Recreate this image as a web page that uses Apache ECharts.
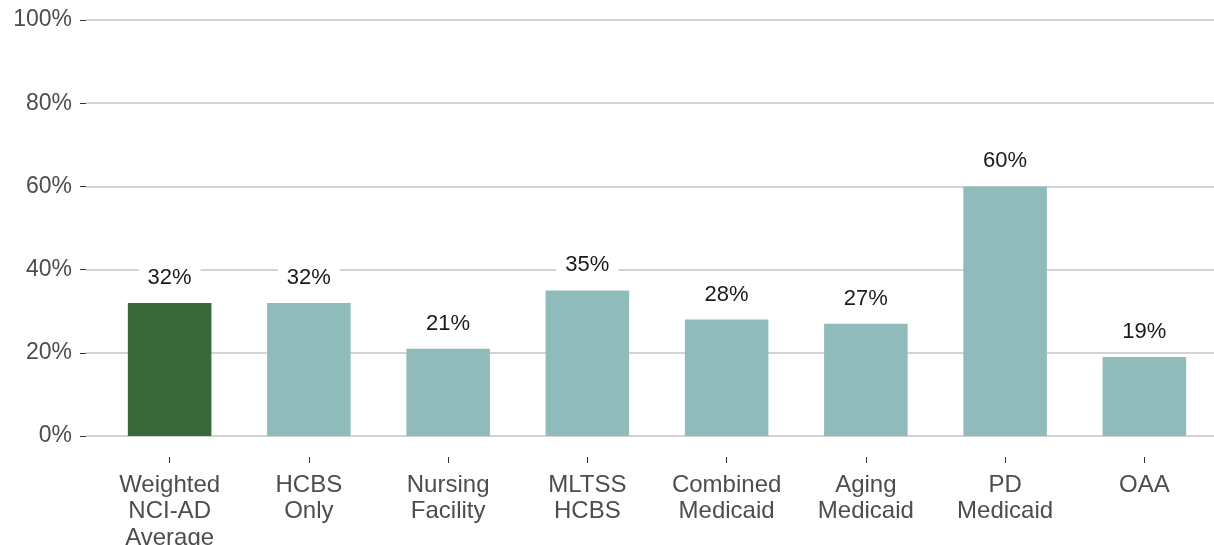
<!DOCTYPE html>
<html>
<head>
<meta charset="utf-8">
<script src="https://cdn.jsdelivr.net/npm/echarts@6/dist/echarts.min.js"></script>
<style>
  html, body { margin: 0; padding: 0; background: #fff; }
  #chart { width: 1214px; height: 545px; }
</style>
</head>
<body>
<div id="chart"></div>
<script>
// categories and values
var categories = [
  "Weighted\nNCI-AD\nAverage",
  "HCBS\nOnly",
  "Nursing\nFacility",
  "MLTSS\nHCBS",
  "Combined\nMedicaid",
  "Aging\nMedicaid",
  "PD\nMedicaid",
  "OAA"
];
var values = [32, 32, 21, 35, 28, 27, 60, 19];
var yTicks = [0, 20, 40, 60, 80, 100];

var font = "'Liberation Sans', Arial, sans-serif";
var avgColor = "#396939";
var barColor = "#8fbbbb";

// the bar grid reaches 21px below the 0% line so the x ticks sit apart from it
var plotTop = 20, zeroY = 436, tickY = 457;
var pxPerUnit = (zeroY - plotTop) / 100;
var barAxisMin = -(tickY - zeroY) / pxPerUnit;

var chart = echarts.init(document.getElementById("chart"));
var option = {
  animation: false,
  grid: [
    // background grid: y labels + gridlines
    { left: 86, right: 0, top: plotTop, bottom: 545 - zeroY, outerBoundsMode: "none", containLabel: false },
    // bars
    { left: 100, right: 0, top: plotTop, bottom: 545 - tickY, outerBoundsMode: "none", containLabel: false }
  ],
  xAxis: [
    {
      gridIndex: 0,
      type: "category",
      data: categories,
      show: false
    },
    {
      gridIndex: 1,
      type: "category",
      data: categories,
      axisLine: { show: false, onZero: false },
      axisTick: { show: true, length: 6, alignWithLabel: true, lineStyle: { color: "#333" } },
      axisLabel: {
        color: "#4d4d4d",
        fontFamily: font,
        fontSize: 24,
        lineHeight: 26.5,
        margin: 15,
        interval: 0
      }
    }
  ],
  yAxis: [
    {
      gridIndex: 0,
      type: "value",
      min: yTicks[0],
      max: yTicks[yTicks.length - 1],
      interval: 20,
      axisLine: { show: false },
      axisTick: { show: true, length: 6, lineStyle: { color: "#333" } },
      axisLabel: {
        formatter: "{value}%",
        color: "#4d4d4d",
        fontFamily: font,
        fontSize: 23,
        margin: 14
      },
      splitLine: { show: true, lineStyle: { color: "#c4c4c4", width: 1.5 } }
    },
    {
      gridIndex: 1,
      type: "value",
      min: barAxisMin,
      max: 100,
      show: false
    }
  ],
  series: [
    {
      type: "bar",
      xAxisIndex: 1,
      yAxisIndex: 1,
      barWidth: "60%",
      data: values.map(function (v, i) {
        return { value: v, itemStyle: { color: i === 0 ? avgColor : barColor } };
      }),
      label: {
        show: true,
        position: "top",
        distance: 12,
        formatter: "{c}%",
        color: "#1a1a1a",
        fontFamily: font,
        fontSize: 22,
        backgroundColor: "#fff",
        padding: [2, 9]
      }
    }
  ]
};
chart.setOption(option);
</script>
</body>
</html>
